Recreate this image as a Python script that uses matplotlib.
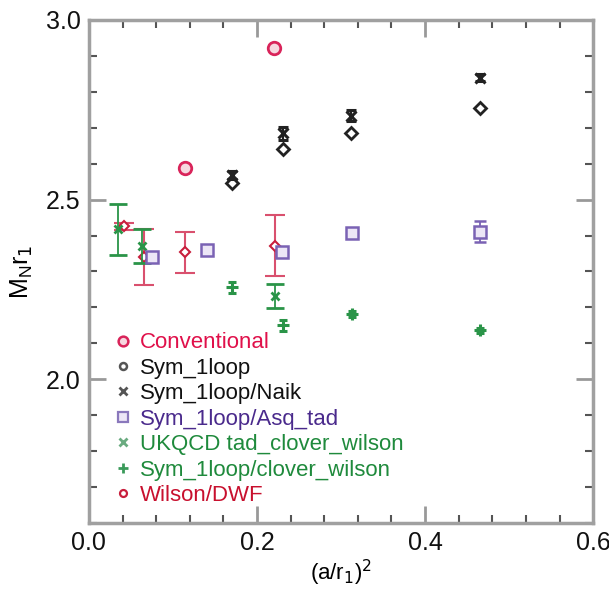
import matplotlib
matplotlib.use("Agg")
import matplotlib.pyplot as plt
from matplotlib.ticker import MultipleLocator, FixedLocator
from matplotlib.lines import Line2D

plt.rcParams['font.family'] = ['Liberation Sans', 'DejaVu Sans']

# Conventional
conv_x = [0.114, 0.220]
conv_y = [2.589, 2.922]

# Sym_1loop
sym_x = [0.170, 0.231, 0.312, 0.465]
sym_y = [2.545, 2.640, 2.686, 2.756]

# Sym_1loop/Naik
naik_x = [0.170, 0.231, 0.312, 0.465]
naik_y = [2.568, 2.685, 2.734, 2.839]
naik_err = [0.012, 0.018, 0.015, 0.010]

# Sym_1loop/Asq_tad
asq_x = [0.075, 0.140, 0.230, 0.313, 0.465]
asq_y = [2.340, 2.361, 2.354, 2.408, 2.411]
asq_err = [0.010, 0.010, 0.010, 0.012, 0.030]

# UKQCD tad_clover_wilson
ukqcd_x = [0.035, 0.063, 0.221]
ukqcd_y = [2.417, 2.370, 2.231]
ukqcd_err = [0.071, 0.047, 0.033]

# Sym_1loop/clover_wilson
clov_x = [0.170, 0.231, 0.313, 0.465]
clov_y = [2.256, 2.150, 2.181, 2.136]
clov_err = [0.015, 0.015, 0.008, 0.008]

# Wilson/DWF
dwf_x = [0.042, 0.065, 0.114, 0.221]
dwf_y = [2.426, 2.339, 2.353, 2.371]
dwf_err = [0.010, 0.078, 0.058, 0.085]

labels = ["Conventional", "Sym_1loop", "Sym_1loop/Naik", "Sym_1loop/Asq_tad",
          "UKQCD tad_clover_wilson", "Sym_1loop/clover_wilson", "Wilson/DWF"]

c_conv = '#d9245a'
c_black = '#222222'
c_green = '#2a9448'
c_dwf = '#c81e3c'
text_colors = ['#e0104a', '#111111', '#111111', '#4a2a8c', '#1f8a3c', '#1f8a3c', '#c8102e']

fig = plt.figure(figsize=(6.09, 5.92), dpi=100)
ax = fig.add_axes([0.146, 0.1166, 0.828, 0.8497])

ax.errorbar(dwf_x, dwf_y, yerr=dwf_err, fmt='D', ms=5, mfc='white', mec=c_dwf, mew=1.5,
            ecolor='#d9506e', elinewidth=1.5, capsize=7, capthick=1.5, zorder=3)
ax.errorbar(ukqcd_x, ukqcd_y, yerr=ukqcd_err, fmt='x', ms=6, mec=c_green, mew=2,
            ecolor=c_green, elinewidth=1.3, capsize=6.5, capthick=1.3, zorder=4)
ax.errorbar(clov_x, clov_y, yerr=clov_err, fmt='+', ms=9, mec=c_green, mew=2.2,
            ecolor=c_green, elinewidth=1.3, capsize=3, capthick=1.3, zorder=4)
ax.errorbar(asq_x, asq_y, yerr=asq_err, fmt='s', ms=9, mfc='#ece6f6', mec='#7a62b4', mew=1.8,
            ecolor='#7a62b4', elinewidth=1.3, capsize=4.5, capthick=1.3, zorder=5)
ax.plot(conv_x, conv_y, 'o', ms=9, mfc='#f6d8e0', mec=c_conv, mew=2, zorder=5)
ax.plot(sym_x, sym_y, 'D', ms=6, mfc='white', mec=c_black, mew=2, zorder=5)
ax.errorbar(naik_x, naik_y, yerr=naik_err, fmt='x', ms=7, mec=c_black, mew=2.2,
            ecolor=c_black, elinewidth=1.5, capsize=3.5, capthick=2, zorder=5)

ax.set_xlim(0.0, 0.6)
ax.set_ylim(1.6, 3.0)

ax.xaxis.set_major_locator(FixedLocator([0.0, 0.2, 0.4, 0.6]))
ax.xaxis.set_minor_locator(MultipleLocator(0.04))
ax.yaxis.set_major_locator(FixedLocator([2.0, 2.5, 3.0]))
ax.yaxis.set_minor_locator(MultipleLocator(0.1))
ax.set_xticklabels(['0.0', '0.2', '0.4', '0.6'])
ax.set_yticklabels(['2.0', '2.5', '3.0'])

ax.tick_params(which='both', direction='in', top=True, right=True, labelsize=18,
               colors='#111111')
ax.tick_params(which='major', length=12, width=2, color='#999999', pad=6)
ax.tick_params(which='minor', length=6, width=1.5, color='#555555')

for s in ax.spines.values():
    s.set_color('#a0a0a0')
    s.set_linewidth(2.5)

ax.set_xlabel(r'(a/r$_1$)$^2$', fontsize=16, labelpad=2)
ax.set_ylabel(r'M$_\mathregular{N}$r$_1$', fontsize=18, labelpad=8)

handles = [
    Line2D([], [], ls='none', marker='o', ms=7, mfc='#f6d8e0', mec=c_conv, mew=1.8),
    Line2D([], [], ls='none', marker='o', ms=5, mfc='white', mec='#555555', mew=1.8),
    Line2D([], [], ls='none', marker='x', ms=6, mec='#555555', mew=2),
    Line2D([], [], ls='none', marker='s', ms=7, mfc='#ece6f6', mec='#8a78bc', mew=1.6),
    Line2D([], [], ls='none', marker='x', ms=6, mec='#6aab80', mew=2),
    Line2D([], [], ls='none', marker='+', ms=7, mec='#3a9a5a', mew=2),
    Line2D([], [], ls='none', marker='o', ms=5, mfc='white', mec=c_dwf, mew=1.6),
]
leg = ax.legend(handles, labels, loc='upper left', bbox_to_anchor=(0.02, 0.41),
                frameon=False, fontsize=16, handlelength=0.8, handletextpad=0.35,
                labelspacing=0.2, borderpad=0.3, borderaxespad=0.4)
for t, c in zip(leg.get_texts(), text_colors):
    t.set_color(c)

fig.savefig('out.png', dpi=100)
